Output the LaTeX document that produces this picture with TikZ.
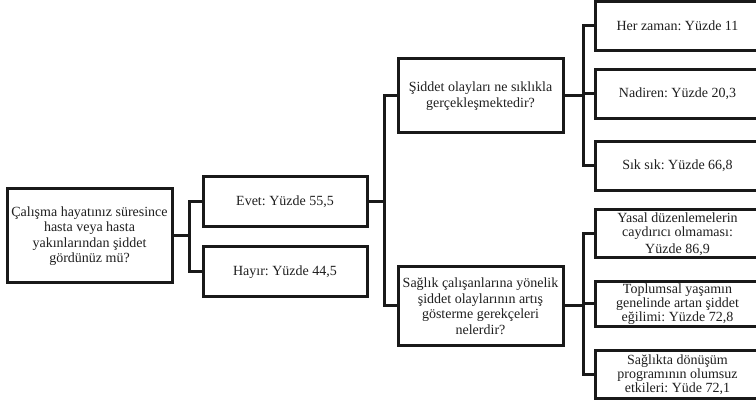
\documentclass[tikz,border=0pt]{standalone}
\usepackage{fontspec}
\setmainfont{Liberation Serif}
\frenchspacing
\begin{document}
\begin{tikzpicture}[x=1pt,y=-1pt,
  box/.style={draw=black!90, line width=3pt, rectangle, inner sep=0pt,
    align=center, text=black!88, font=\fontsize{14}{15.5}\selectfont},
  smallbox/.style={box, font=\fontsize{14}{14}\selectfont},
  link/.style={draw=black!90, line width=3pt}]
\useasboundingbox (0,0) rectangle (756,406);
\fill[white] (0,0) rectangle (756,406);

% question on the left
\node[box, minimum width=165, minimum height=94] (q) at (89.5,236)
  {Çalışma hayatınız süresince\\hasta veya hasta\\yakınlarından şiddet\\gördünüz mü?};

% answers
\node[box, minimum width=164, minimum height=50] (evet) at (285,202) {Evet: Yüzde 55,5};
\node[box, minimum width=164, minimum height=50] (hayir) at (285,272) {Hayır: Yüzde 44,5};

% follow-up questions
\node[box, minimum width=165, minimum height=74] (siklik) at (480.5,96)
  {Şiddet olayları ne sıklıkla\\gerçekleşmektedir?};
\node[box, minimum width=165, minimum height=79] (neden) at (480.5,306)
  {Sağlık çalışanlarına yönelik\\şiddet olaylarının artış\\gösterme gerekçeleri\\nelerdir?};

% frequency answers
\node[box, minimum width=165, minimum height=49] (her) at (677.5,26) {Her zaman: Yüzde 11};
\node[box, minimum width=165, minimum height=49] (nadir) at (677.5,94) {Nadiren: Yüzde 20,3};
\node[box, minimum width=165, minimum height=49] (sik) at (677.5,166) {Sık sık: Yüzde 66,8};

% reasons
\node[smallbox, minimum width=165, minimum height=48] (yasal) at (677.5,234)
  {Yasal düzenlemelerin\\caydırıcı olmaması:\\[3pt]Yüzde 86,9};
\node[smallbox, minimum width=165, minimum height=45] (toplum) at (677.5,304)
  {Toplumsal yaşamın\\genelinde artan şiddet\\eğilimi: Yüzde 72,8};
\node[smallbox, minimum width=165, minimum height=48] (donusum) at (677.5,375)
  {Sağlıkta dönüşüm\\programının olumsuz\\etkileri: Yüde 72,1};

% connectors
\draw[link] (q.east) -- ++(16,0) coordinate (b1);
\draw[link] (b1) |- (evet.west);
\draw[link] (b1) |- (hayir.west);

\draw[link] (evet.east) -- ++(16,0) coordinate (b2);
\draw[link] (b2) |- (siklik.west);
\draw[link] (b2) |- (neden.west);

\draw[link] (siklik.east) -- ++(19,0) coordinate (b3);
\draw[link] (b3) |- (her.west);
\draw[link] (b3) |- (nadir.west);
\draw[link] (b3) |- (sik.west);

\draw[link] (neden.east) -- ++(19,0) coordinate (b4);
\draw[link] (b4) |- (yasal.west);
\draw[link] (b4) |- (toplum.west);
\draw[link] (b4) |- (donusum.west);
\end{tikzpicture}
\end{document}
